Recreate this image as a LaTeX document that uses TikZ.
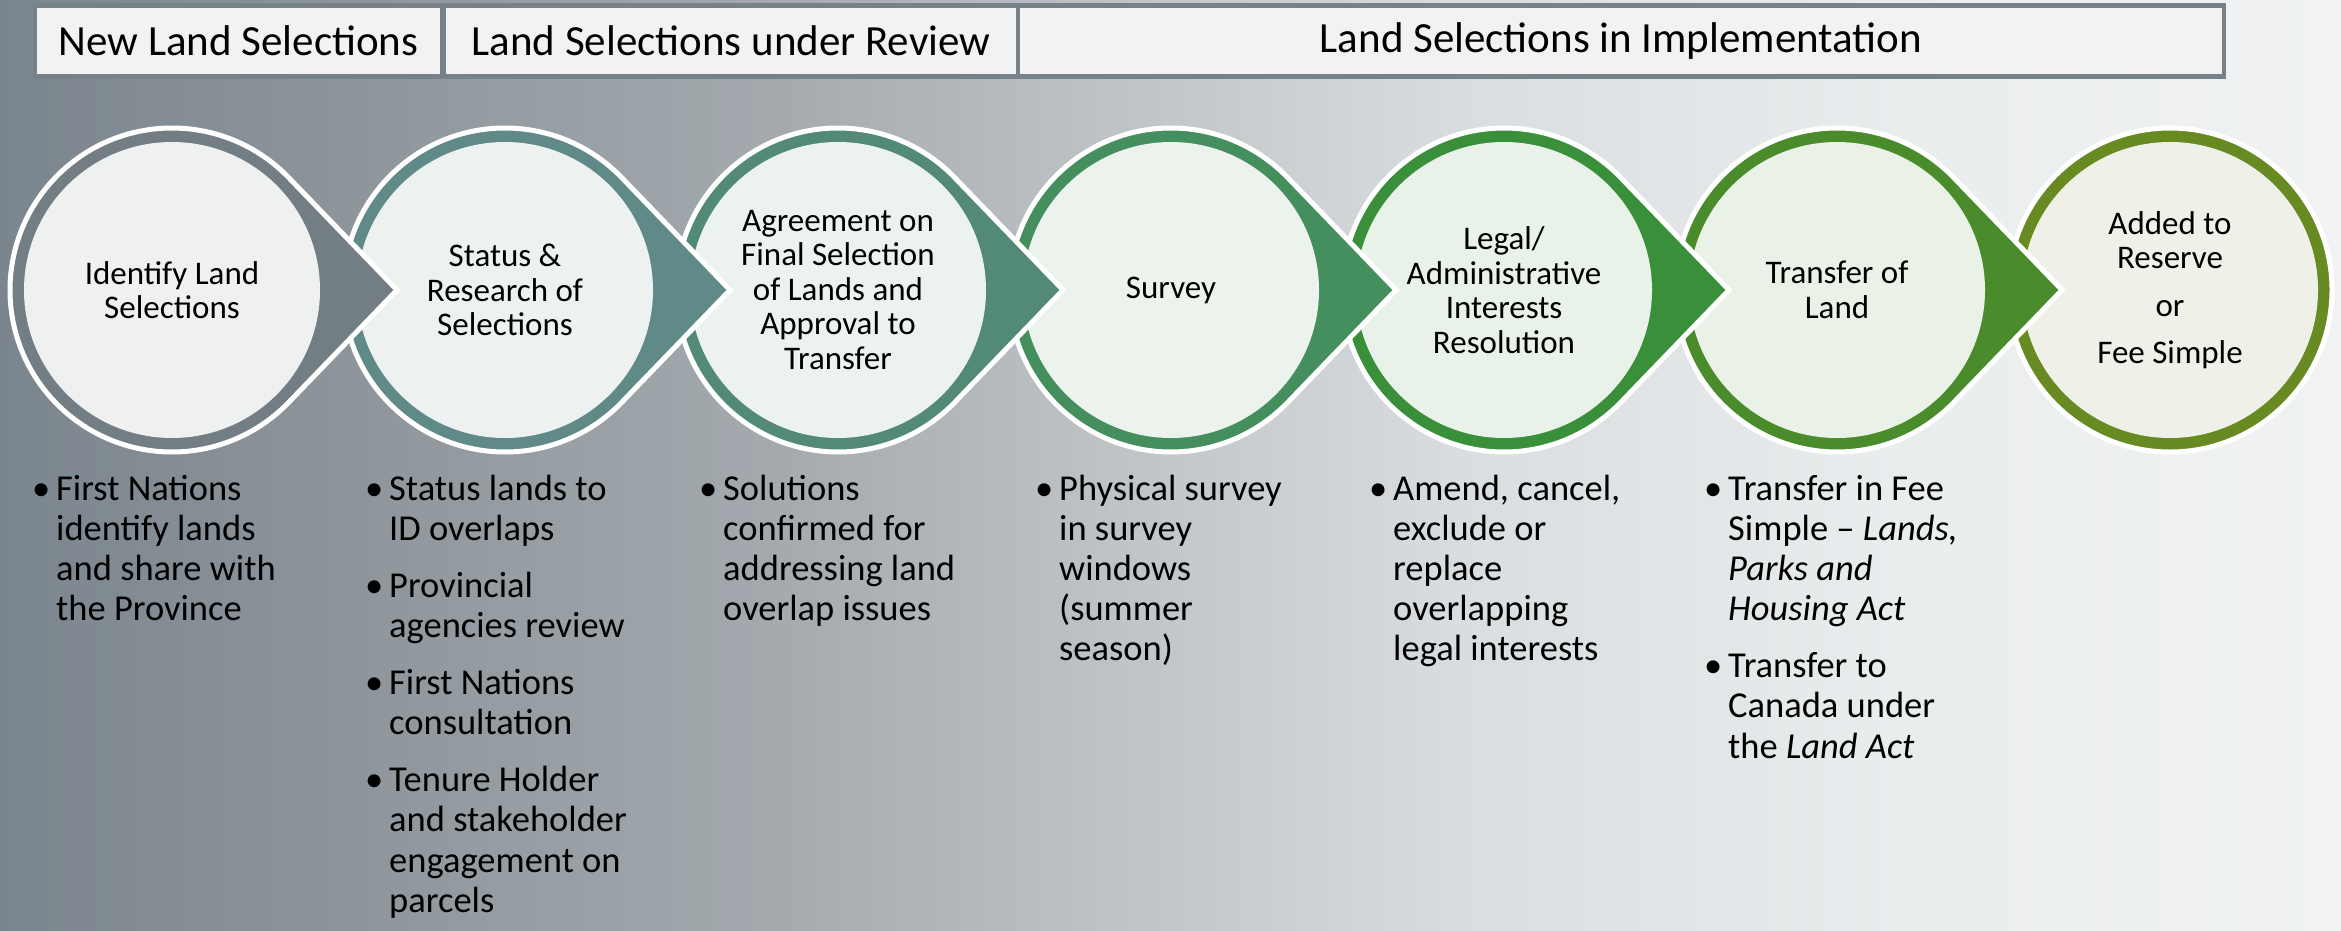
\documentclass[tikz,border=0pt]{standalone}
\usepackage{fontspec}
\setmainfont{Carlito}
\usetikzlibrary{positioning}

\definecolor{bgA}{HTML}{7B858D}
\definecolor{bgB}{HTML}{A4AAAE}
\definecolor{bgC}{HTML}{DADDDF}
\definecolor{bgD}{HTML}{EAEDEE}
\definecolor{bgE}{HTML}{F0F2F3}
\definecolor{headline}{HTML}{778288}
\definecolor{headfill}{HTML}{F2F2F2}
\definecolor{ringA}{HTML}{727E83}
\definecolor{ringB}{HTML}{5F8A87}
\definecolor{ringC}{HTML}{538A76}
\definecolor{ringD}{HTML}{458E5D}
\definecolor{ringE}{HTML}{398F3A}
\definecolor{ringF}{HTML}{4A8C2C}
\definecolor{ringG}{HTML}{688A23}
\definecolor{coreA}{HTML}{EFF1F1}
\definecolor{coreB}{HTML}{EDF2F1}
\definecolor{coreC}{HTML}{ECF2EF}
\definecolor{coreD}{HTML}{EBF3EC}
\definecolor{coreE}{HTML}{E9F2E9}
\definecolor{coreF}{HTML}{EAF2E7}
\definecolor{coreG}{HTML}{EFF1E8}

\pgfdeclarehorizontalshading{backdrop}{100bp}{color(0bp)=(bgA); color(25bp)=(bgA); color(41.7bp)=(bgB); color(56.2bp)=(bgC); color(65.5bp)=(bgD); color(75bp)=(bgE); color(100bp)=(bgE)}

% one bullet point, and the gap between two of them
\newcommand\bul[1]{\noindent\makebox[24pt][l]{•}\parbox[t]{270pt}{\raggedright\strut#1\strut}\par}
\newcommand\bulgap{\vspace{15.8pt}}

\begin{document}
\begin{tikzpicture}
[x=1pt,y=-1pt,%
  headbox/.style={fill=headfill,inner sep=0pt,outer sep=0pt,minimum height=66pt,font=\fontsize{43}{50}\selectfont},%
  stagetext/.style={align=center,inner sep=0pt,font=\fontsize{33}{34.5}\selectfont},%
  bullets/.style={anchor=base west,inner sep=0pt,font=\fontsize{36.5}{40.2}\selectfont}]
\useasboundingbox (0,0) rectangle (2341,930);
%% backdrop
\shade[shading=backdrop] (0,0) rectangle (2341,930);
%% header boxes
\fill[headline] (33,3) rectangle (2226,79);
\node[headbox,minimum width=403pt] (h1) at (238.5,41) {New Land Selections};
\node[headbox,minimum width=570pt,right=6pt of h1] (h2) {Land Selections under Review};
\node[headbox,minimum width=1202pt,right=4pt of h2] (h3) {Land Selections in Implementation};
%% stages, drawn right to left so each arrow lies over the next circle
\coordinate (c7) at (2170,290);
\fill[ringG,draw=white,line width=5pt] (c7) circle[radius=162pt];
\fill[coreG] (c7) circle[radius=148pt];
\foreach \k/\x/\ring/\core in {
  6/1837/ringF/coreF, 5/1504/ringE/coreE, 4/1171/ringD/coreD,
  3/838/ringC/coreC, 2/505/ringB/coreB, 1/172/ringA/coreA}
{
  \coordinate (c\k) at (\x,290);
  \fill[\ring,draw=white,line width=5pt] ([shift={(44:162pt)}]c\k)
    arc[start angle=44,end angle=316,radius=162pt] -- ([xshift=225pt]c\k) -- cycle;
  \fill[\core] (c\k) circle[radius=148pt];
}
%% stage labels
\foreach \k/\txt in {
  1/{Identify Land\\Selections}, 2/{Status \&\\Research of\\Selections},
  3/{Agreement on\\Final Selection\\of Lands and\\Approval to\\Transfer},
  4/{Survey}, 5/{Legal/\\Administrative\\Interests\\Resolution},
  6/{Transfer of\\Land}, 7/{Added to\\Reserve\\[13pt]or\\[13pt]Fee Simple}}
{
  \node[stagetext] (s\k) at (c\k) {\txt};
}
%% bullet notes
\node[bullets] (n1) at (32,500) {\parbox[t]{300pt}{\bul{First Nations\\identify lands\\and share with\\the Province}}};
\node[bullets] (n2) at (365,500) {\parbox[t]{300pt}{\bul{Status lands to\\ID overlaps}\bulgap
  \bul{Provincial\\agencies review}\bulgap\bul{First Nations\\consultation}\bulgap
  \bul{Tenure Holder\\and stakeholder\\engagement on\\parcels}}};
\node[bullets] (n3) at (699,500) {\parbox[t]{300pt}{\bul{Solutions\\confirmed for\\addressing land\\overlap issues}}};
\node[bullets] (n4) at (1035,500) {\parbox[t]{300pt}{\bul{Physical survey\\in survey\\windows\\(summer\\season)}}};
\node[bullets] (n5) at (1369,500) {\parbox[t]{300pt}{\bul{Amend, cancel,\\exclude or\\replace\\overlapping\\legal interests}}};
\node[bullets] (n6) at (1704,500) {\parbox[t]{300pt}{\bul{Transfer in Fee\\Simple -- \textit{Lands,}\\\textit{Parks and}\\\textit{Housing Act}}\bulgap
  \bul{Transfer to\\Canada under\\the \textit{Land Act}}}};
\end{tikzpicture}
\end{document}
